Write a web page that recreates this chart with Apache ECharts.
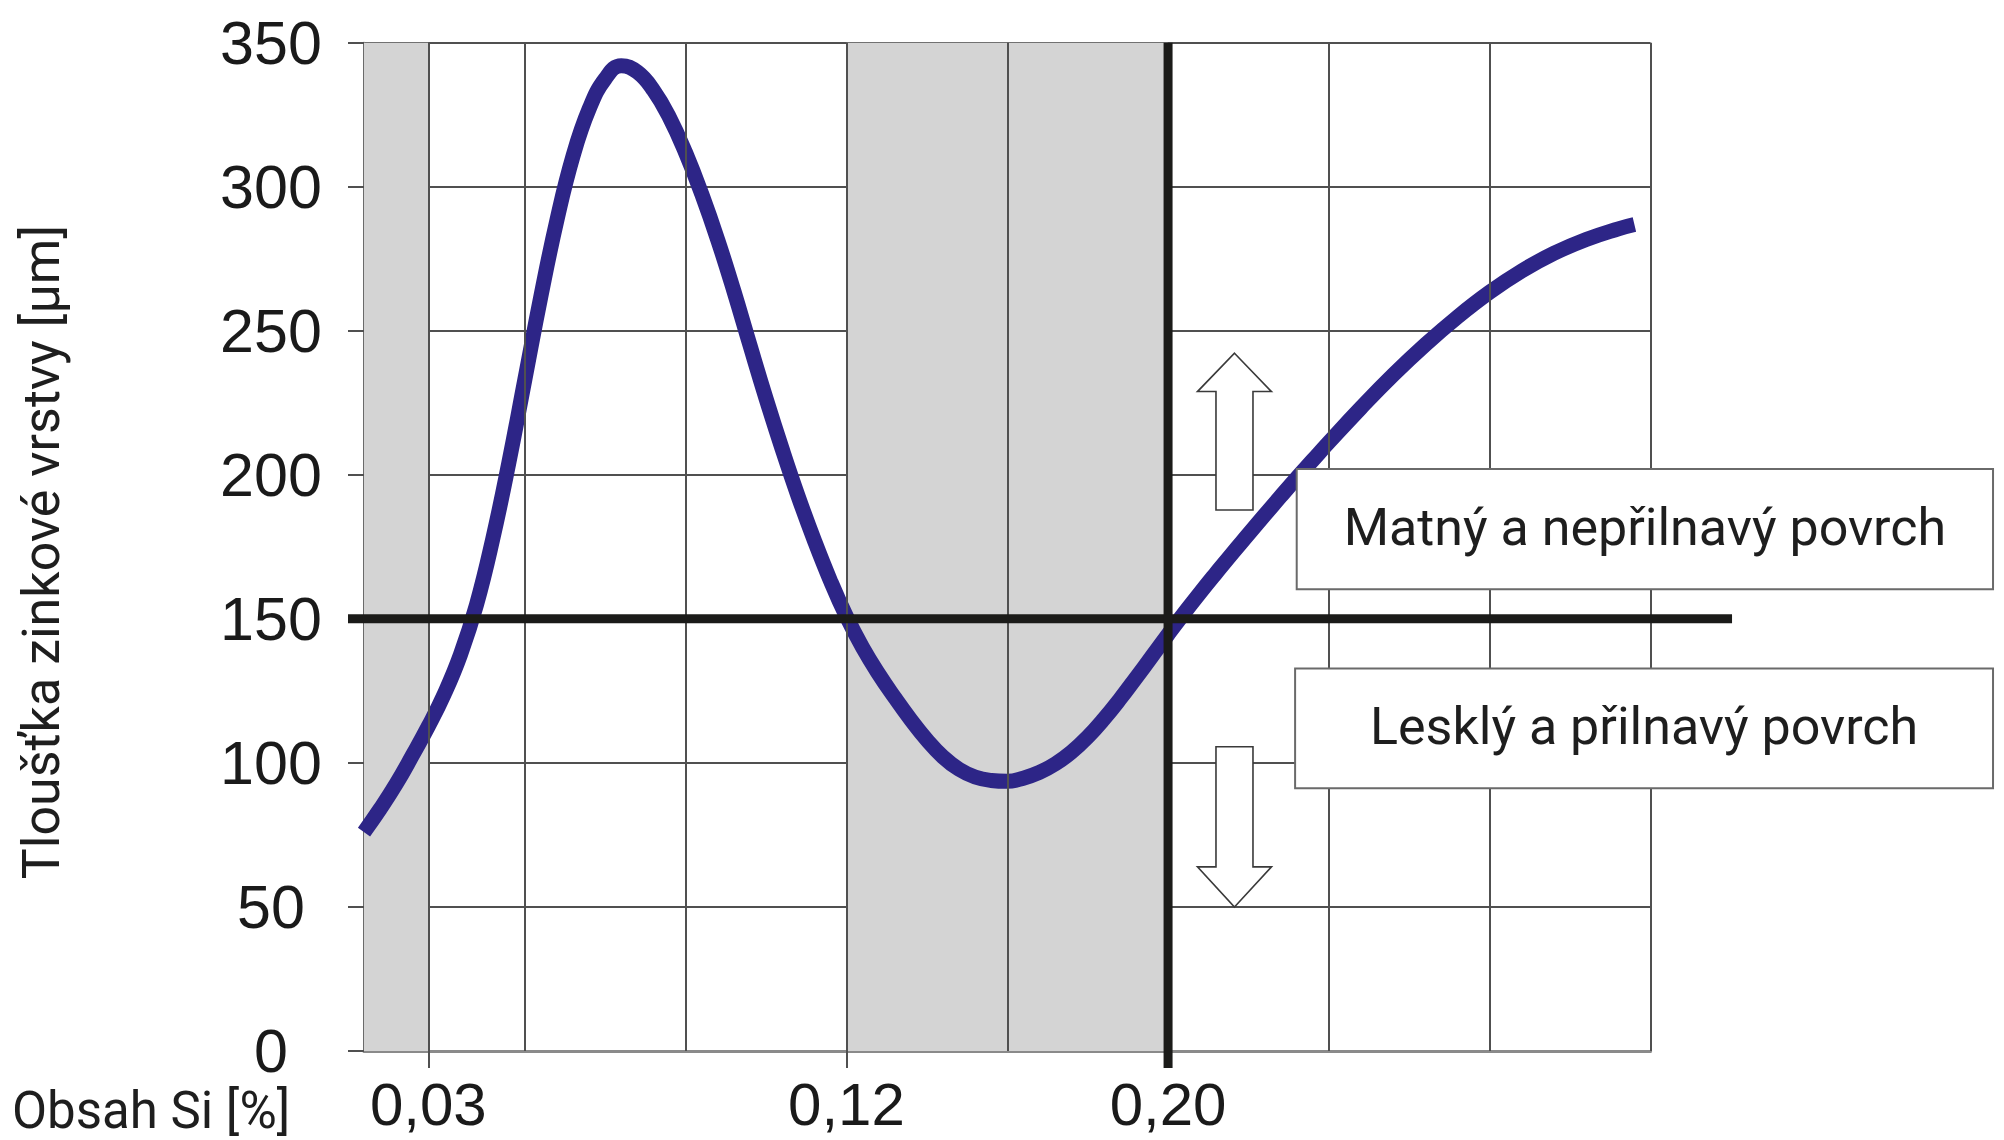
<!DOCTYPE html>
<html>
<head>
<meta charset="utf-8">
<script src="https://cdn.jsdelivr.net/npm/echarts@6/dist/echarts.min.js"></script>
<style>
  html, body { margin: 0; padding: 0; background: #ffffff; }
  #chart { width: 2004px; height: 1140px; }
</style>
</head>
<body>
<div id="chart"></div>
<script>
// ---- data ----
// x positions are in schematic grid units of the original figure (not linear in %Si)
const siPosition = [0.0, 0.1, 0.2, 0.3, 0.4, 0.5, 0.6, 0.7, 0.8, 0.9,
                    1.0, 1.1, 1.2, 1.3, 1.4, 1.5, 1.6, 1.7, 1.8, 1.9,
                    2.0, 2.1, 2.2, 2.3, 2.4, 2.5, 2.6, 2.7, 2.8, 2.9,
                    3.0, 3.1, 3.2, 3.3, 3.4, 3.5, 3.6, 3.7, 3.8, 3.9,
                    4.0, 4.1, 4.2, 4.3, 4.4, 4.5, 4.6, 4.7, 4.8, 4.9,
                    5.0, 5.1, 5.2, 5.3, 5.4, 5.5, 5.6, 5.7, 5.8, 5.9,
                    6.0, 6.2, 6.4, 6.6, 6.8, 7.0, 7.2, 7.4, 7.6, 7.8, 7.9];
const thickness  = [76, 84, 92.7, 102.5, 112.7, 124, 137.6, 155, 177.6, 204,
                    233, 262, 288.5, 310.7, 327, 337.5, 342, 339.8, 333.5, 324,
                    311.8, 297.5, 281.5, 263.8, 245, 226.5, 209, 192.5, 177.3, 163.3,
                    150.8, 140.1, 130.9, 122.7, 115, 108, 102.1, 97.8, 95.1, 93.9,
                    93.6, 94.7, 96.7, 99.7, 103.8, 109, 115.2, 122.1, 129.5, 137,
                    144.6, 152, 159.1, 166, 172.8, 179.4, 186, 192.5, 198.9, 205.1,
                    211.3, 223.3, 234.7, 245.2, 254.8, 263.4, 270.8, 276.9, 281.7, 285.4, 286.9];

const xTickPositions = [0.4, 3, 5];
const xTickLabels = ['0,03', '0,12', '0,20'];
const xGridPositions = [0.4, 1, 2, 3, 4, 5, 6, 7, 8];
const shadedRanges = [[0, 0.4], [3, 5]];

const thresholdThickness = 150;
const thresholdSiPosition = 5;
const zoneLabels = ['Matný a nepřilnavý povrch', 'Lesklý a přilnavý povrch'];

const yAxisTitle = 'Tloušťka zinkové vrstvy [µm]';
const xAxisTitle = 'Obsah Si [%]';

// ---- chart ----
const chart = echarts.init(document.getElementById('chart'), null, { renderer: 'svg' });

const GRID_COLOR = '#505050';

function renderAnnotations(params, api) {
  if (params.dataIndex !== 0) return null;
  const c = (x, y) => api.coord([x, y]);
  const hL = c(0, thresholdThickness);
  const hR = c(8.507, thresholdThickness);
  const vT = c(thresholdSiPosition, 350);
  const vB = c(thresholdSiPosition, 0);
  const black = { stroke: '#1b1b19', lineWidth: 9 };

  const arrowX = c(5.413, 0)[0];
  const headHalf = 37, shaftHalf = 18.5;
  const upTip = c(0, 242.2)[1], upBase = c(0, 228.9)[1], upBot = c(0, 187.8)[1];
  const dnTop = c(0, 105.6)[1], dnBase = c(0, 63.9)[1], dnTip = c(0, 50.0)[1];
  const arrowStyle = { fill: '#ffffff', stroke: '#3a3a3a', lineWidth: 1.6 };

  function box(x1, x2, y1, y2, text) {
    const p1 = c(x1, y1), p2 = c(x2, y2);
    return [
      { type: 'rect', shape: { x: p1[0], y: p1[1], width: p2[0] - p1[0], height: p2[1] - p1[1] },
        style: { fill: '#ffffff', stroke: '#6a6a6a', lineWidth: 2 } },
      { type: 'text', style: { text: text, x: (p1[0] + p2[0]) / 2, y: (p1[1] + p2[1]) / 2 - 2,
        align: 'center', verticalAlign: 'middle', font: '52px Roboto', fill: '#1e1e1e' } }
    ];
  }

  return {
    type: 'group',
    children: [
      { type: 'line', shape: { x1: hL[0] - 16, y1: hL[1], x2: hR[0], y2: hR[1] }, style: black },
      { type: 'line', shape: { x1: vT[0], y1: vT[1], x2: vB[0], y2: vB[1] + 17 }, style: black },
      { type: 'polygon', shape: { points: [
          [arrowX, upTip], [arrowX + headHalf, upBase], [arrowX + shaftHalf, upBase],
          [arrowX + shaftHalf, upBot], [arrowX - shaftHalf, upBot], [arrowX - shaftHalf, upBase],
          [arrowX - headHalf, upBase]] }, style: arrowStyle },
      { type: 'polygon', shape: { points: [
          [arrowX, dnTip], [arrowX + headHalf, dnBase], [arrowX + shaftHalf, dnBase],
          [arrowX + shaftHalf, dnTop], [arrowX - shaftHalf, dnTop], [arrowX - shaftHalf, dnBase],
          [arrowX - headHalf, dnBase]] }, style: arrowStyle }
    ].concat(box(5.80, 10.13, 202, 160.3, zoneLabels[0]))
     .concat(box(5.79, 10.13, 132.8, 91.2, zoneLabels[1]))
  };
}

const option = {
  animation: false,
  backgroundColor: '#ffffff',
  grid: { left: 364, top: 42.7, right: 353.5, bottom: 89, containLabel: false, outerBoundsMode: 'none' },
  xAxis: {
    type: 'value',
    min: 0,
    max: 8,
    interval: 1,
    splitLine: { show: false },
    axisLine: { show: true, lineStyle: { color: '#8a8a8a', width: 3 } },
    axisTick: { show: true, customValues: [xTickPositions[0], xTickPositions[1]], length: 17,
      lineStyle: { color: GRID_COLOR, width: 2 } },
    axisLabel: {
      show: true,
      customValues: xTickPositions,
      margin: 23,
      fontSize: 60,
      fontFamily: 'Liberation Sans',
      color: '#1a1a1a',
      formatter: function (v) {
        for (let i = 0; i < xTickPositions.length; i++) {
          if (Math.abs(v - xTickPositions[i]) < 1e-6) return xTickLabels[i];
        }
        return '';
      }
    }
  },
  yAxis: {
    type: 'value',
    min: 0,
    max: 350,
    interval: 50,
    splitLine: { show: true, lineStyle: { color: GRID_COLOR, width: 2 } },
    axisLine: { show: true, lineStyle: { color: '#6a6a6a', width: 2 } },
    axisTick: { show: true, length: 16, lineStyle: { color: GRID_COLOR, width: 2 } },
    axisLabel: {
      align: 'center',
      margin: 93,
      fontSize: 61,
      fontFamily: 'Liberation Sans',
      color: '#1a1a1a'
    }
  },
  graphic: [
    { type: 'text', x: 41, y: 552, rotation: Math.PI / 2,
      style: { text: yAxisTitle, font: '52px Roboto', fill: '#1e1e1e', align: 'center', verticalAlign: 'middle' } },
    { type: 'text', x: 12, y: 1110,
      style: { text: xAxisTitle, font: '51px Roboto', fill: '#1e1e1e', align: 'left', verticalAlign: 'middle' } }
  ],
  series: [
    {
      name: 'bands',
      type: 'line',
      data: [],
      z: 1,
      silent: true,
      markArea: {
        silent: true,
        itemStyle: { color: '#d4d4d4' },
        data: shadedRanges.map(r => [{ xAxis: r[0] }, { xAxis: r[1] }])
      }
    },
    {
      name: 'vgrid',
      type: 'line',
      data: [],
      z: 2,
      silent: true,
      markLine: {
        silent: true,
        symbol: ['none', 'none'],
        label: { show: false },
        lineStyle: { color: GRID_COLOR, width: 2, type: 'solid' },
        data: xGridPositions.map(v => ({ xAxis: v }))
      }
    },
    {
      name: 'Tloušťka',
      type: 'line',
      z: 3,
      smooth: 0.45,
      symbol: 'none',
      lineStyle: { color: '#2d2587', width: 15, cap: 'butt', join: 'round' },
      data: siPosition.map((x, i) => [x, thickness[i]])
    },
    {
      name: 'annotations',
      type: 'custom',
      z: 10,
      clip: false,
      silent: true,
      renderItem: renderAnnotations,
      data: [[0, 0]]
    }
  ]
};

chart.setOption(option);
</script>
</body>
</html>
